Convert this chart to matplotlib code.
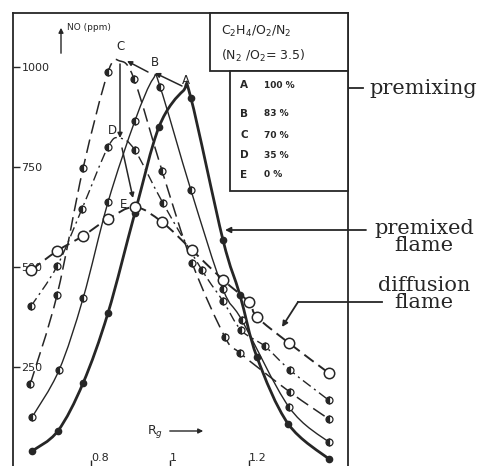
import numpy as np
import matplotlib
matplotlib.use("Agg")
import matplotlib.pyplot as plt
from matplotlib.path import Path
from matplotlib.patches import PathPatch, Rectangle

# NO emission vs. Rg for C2H4/O2/N2 flames at several premixing ratios
rg_a = [0.651, 0.716, 0.780, 0.843, 0.911, 0.972, 1.033, 1.053, 1.134, 1.177, 1.220, 1.299, 1.402]
no_a = [40, 90, 210, 385, 635, 850, 940, 922, 568, 430, 275, 108, 20]
dot_a = [1, 1, 1, 1, 1, 1, 0, 1, 1, 1, 1, 1, 1]

rg_b = [0.651, 0.719, 0.780, 0.843, 0.911, 0.957, 0.975, 1.053, 1.134, 1.182, 1.301, 1.402]
no_b = [125, 242, 422, 662, 865, 970, 950, 692, 445, 367, 150, 62]
dot_b = [1, 1, 1, 1, 1, 0, 1, 1, 1, 1, 1, 1]

rg_c = [0.646, 0.714, 0.780, 0.843, 0.873, 0.909, 0.980, 1.056, 1.139, 1.177, 1.304, 1.402]
no_c = [207, 430, 747, 987, 1015, 970, 740, 510, 325, 285, 187, 120]
dot_c = [1, 1, 1, 1, 0, 1, 1, 1, 1, 1, 1, 1]

rg_d = [0.648, 0.714, 0.777, 0.843, 0.873, 0.911, 0.982, 1.081, 1.134, 1.180, 1.240, 1.304, 1.402]
no_d = [402, 502, 645, 800, 822, 792, 660, 492, 415, 342, 302, 242, 167]
dot_d = [1, 1, 1, 1, 0, 1, 1, 1, 1, 1, 1, 1, 1]

rg_e = [0.648, 0.714, 0.780, 0.843, 0.911, 0.980, 1.056, 1.134, 1.200, 1.220, 1.301, 1.402]
no_e = [492, 540, 578, 620, 650, 612, 542, 468, 412, 375, 310, 235]
dot_e = [1] * 12

mix_labels = ["A", "B", "C", "D", "E"]
mix_pct = ["100 %", "83 %", "70 %", "35 %", "0 %"]

y_ticks = [250, 500, 750, 1000]
y_ticklabels = ["250", "500", "750", "1000"]
x_ticks = [0.8, 1.0, 1.2]
x_ticklabels = ["0.8", "1", "1.2"]

ink = "#262626"


def smooth_path(xs, ys):
    # catmull-rom through the points, as cubic bezier segments
    pts = np.column_stack([xs, ys]).astype(float)
    n = len(pts)
    verts = [pts[0]]
    codes = [Path.MOVETO]
    for i in range(n - 1):
        p0 = pts[i - 1] if i > 0 else pts[i]
        p1 = pts[i]
        p2 = pts[i + 1]
        p3 = pts[i + 2] if i + 2 < n else pts[i + 1]
        verts += [p1 + (p2 - p0) / 6, p2 - (p3 - p1) / 6, p2]
        codes += [Path.CURVE4] * 3
    return Path(verts, codes)


def fx(px):
    return px / 486


def fy(py):
    return 1 - py / 466


fig = plt.figure(figsize=(4.86, 4.66), dpi=100)
ax = fig.add_axes([fx(13), -1 / 466, 335 / 486, 454 / 466])
ax.set_xlim(0.6025, 1.4506)
ax.set_ylim(0, 1135)

series = [
    (rg_a, no_a, dot_a, dict(lw=2.0, ls="-"), dict(marker="o", ms=4.5, mfc=ink, mec=ink)),
    (rg_b, no_b, dot_b, dict(lw=1.0, ls="-"),
     dict(marker="o", ms=5, mfc=ink, mfcalt="white", fillstyle="left", mec=ink, mew=0.9)),
    (rg_c, no_c, dot_c, dict(lw=1.1, ls=(0, (9, 4))),
     dict(marker="o", ms=5, mfc=ink, mfcalt="white", fillstyle="left", mec=ink, mew=0.9)),
    (rg_d, no_d, dot_d, dict(lw=1.0, ls=(0, (7, 3, 1.5, 3))),
     dict(marker="o", ms=5, mfc=ink, mfcalt="white", fillstyle="left", mec=ink, mew=0.9)),
    (rg_e, no_e, dot_e, dict(lw=1.4, ls=(0, (6, 3))),
     dict(marker="o", ms=7.5, mfc="white", mec=ink, mew=1.1)),
]

for xs, ys, dots, lstyle, mstyle in series:
    patch = PathPatch(smooth_path(xs, ys), fill=False, edgecolor=ink,
                      linewidth=lstyle["lw"], linestyle=lstyle["ls"], zorder=2)
    ax.add_patch(patch)
    m = np.array(dots, dtype=bool)
    mx = np.array(xs)[m]
    my = np.array(ys)[m]
    kw = dict(mstyle)
    alt = kw.pop("mfcalt", None)
    line, = ax.plot(mx, my, linestyle="none", marker=kw["marker"], markersize=kw["ms"],
                    markerfacecolor=kw["mfc"], markeredgecolor=kw["mec"],
                    markeredgewidth=kw.get("mew", 1.0), zorder=4)
    if alt is not None:
        line.set_fillstyle(kw["fillstyle"])
        line.set_markerfacecoloralt(alt)

# frame and ticks drawn inside
for s in ax.spines.values():
    s.set_color(ink)
    s.set_linewidth(1.3)
ax.set_yticks(y_ticks, y_ticklabels)
ax.set_xticks(x_ticks, x_ticklabels)
ax.tick_params(axis="y", direction="in", length=5, width=1, pad=-6, labelsize=8, colors=ink)
ax.tick_params(axis="x", direction="in", length=5, width=1, pad=-3, labelsize=8, colors=ink)
for t in ax.get_yticklabels():
    t.set_horizontalalignment("left")
for t in ax.get_xticklabels():
    t.set_horizontalalignment("left")
    t.set_verticalalignment("bottom")

# axis captions
fig.text(fx(67), fy(27), "NO (ppm)", fontsize=6.5, color=ink, va="center")
ax.annotate("", xy=(fx(61), fy(25)), xytext=(fx(61), fy(56)),
            xycoords="figure fraction", textcoords="figure fraction",
            arrowprops=dict(arrowstyle="-|>", color=ink, lw=1.0, mutation_scale=7))
fig.text(fx(147), fy(431), "R$_g$", fontsize=9, color=ink, va="center")
ax.annotate("", xy=(fx(206), fy(431)), xytext=(fx(167), fy(431)),
            xycoords="figure fraction", textcoords="figure fraction",
            arrowprops=dict(arrowstyle="-|>", color=ink, lw=1.0, mutation_scale=7))

# curve letters and the arrows between peaks
for lab, px, py in [("C", 120, 47), ("B", 155, 63), ("A", 186, 80), ("D", 112, 131), ("E", 124, 204)]:
    fig.text(fx(px), fy(py), lab, fontsize=8.5, color=ink, ha="center", va="center")
arrow_kw = dict(arrowstyle="-|>", color=ink, lw=1.1, mutation_scale=7, shrinkA=0, shrinkB=0)
for (x0, y0), (x1, y1) in [((148, 72), (127, 61)), ((182, 86), (155, 73)),
                           ((120, 64), (120, 138)), ((122, 148), (133, 198))]:
    ax.annotate("", xy=(fx(x1), fy(y1)), xytext=(fx(x0), fy(y0)),
                xycoords="figure fraction", textcoords="figure fraction", arrowprops=arrow_kw)

# composition boxes
box1 = Rectangle((fx(210), fy(71)), fx(348) - fx(210), fy(13) - fy(71), transform=fig.transFigure,
                 facecolor="white", edgecolor=ink, lw=1.3, zorder=5)
box2 = Rectangle((fx(230), fy(191)), fx(348) - fx(230), fy(71) - fy(191), transform=fig.transFigure,
                 facecolor="white", edgecolor=ink, lw=1.3, zorder=5)
fig.add_artist(box1)
fig.add_artist(box2)
fig.text(fx(221), fy(31), "C$_2$H$_4$/O$_2$/N$_2$", fontsize=9, color=ink, va="center", zorder=6)
fig.text(fx(221), fy(56), "(N$_2$ /O$_2$= 3.5)", fontsize=9, color=ink, va="center", zorder=6)
for lab, pct, py in zip(mix_labels, mix_pct, [85, 114, 135, 155, 175]):
    fig.text(fx(240), fy(py), lab, fontsize=7.5, color=ink, va="center", weight="bold", zorder=6)
    fig.text(fx(264), fy(py), pct, fontsize=6.5, color=ink, va="center", weight="bold", zorder=6)

# side notes
serif = "DejaVu Serif"
fig.add_artist(plt.Line2D([fx(302), fx(363)], [fy(88), fy(88)], color=ink, lw=1.3))
fig.text(fx(369), fy(88), "premixing", fontsize=15, family=serif, color=ink, va="center")

ax.annotate("", xy=(fx(225), fy(230)), xytext=(fx(366), fy(230)),
            xycoords="figure fraction", textcoords="figure fraction",
            arrowprops=dict(arrowstyle="-|>", color=ink, lw=1.3, mutation_scale=8, shrinkA=0, shrinkB=0))
fig.text(fx(424), fy(237), "premixed\nflame", fontsize=15, family=serif, color=ink,
         ha="center", va="center", linespacing=0.85)

fig.add_artist(plt.Line2D([fx(382), fx(298)], [fy(302), fy(302)], color=ink, lw=1.3))
ax.annotate("", xy=(fx(282), fy(327)), xytext=(fx(298), fy(302)),
            xycoords="figure fraction", textcoords="figure fraction",
            arrowprops=dict(arrowstyle="-|>", color=ink, lw=1.3, mutation_scale=8, shrinkA=0, shrinkB=0))
fig.text(fx(424), fy(294), "diffusion\nflame", fontsize=15, family=serif, color=ink,
         ha="center", va="center", linespacing=0.85)

fig.savefig("out.png", dpi=100, facecolor="white")
